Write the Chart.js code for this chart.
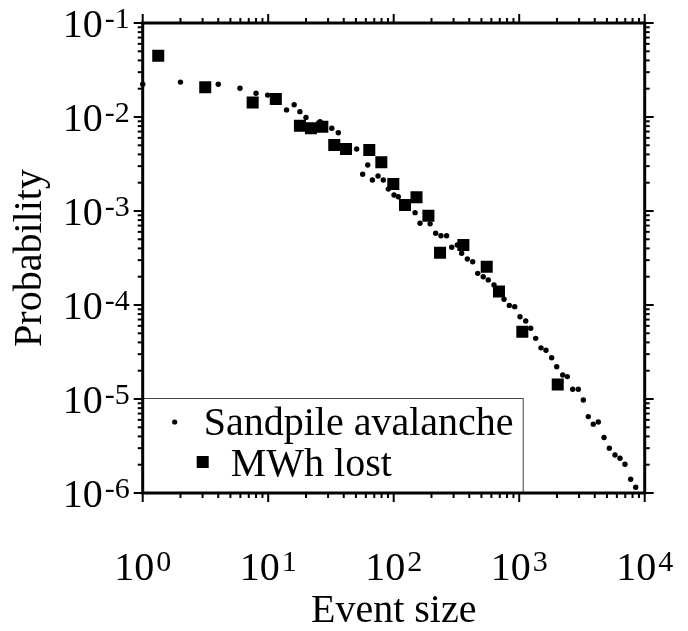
<!DOCTYPE html>
<html><head><meta charset="utf-8">
<script src="https://cdn.jsdelivr.net/npm/chart.js@4/dist/chart.umd.min.js"></script>
<style>html,body{margin:0;padding:0;background:#fff;}#wrap{width:688px;height:631px;}</style>
</head><body><div id="wrap"><canvas id="c" width="688" height="631"></canvas></div>
<script>
// ---- data ----
const sandpileSize = [1.0, 2.0, 4.0, 5.96, 8.0, 9.9, 14.0, 16.1, 17.9, 20.0, 25.9, 32.1, 36.2, 50.7, 56.6, 62.1, 67.6, 75.0, 82.6, 90.6, 100.6, 108.8, 148, 162, 195, 216, 238, 264, 290, 321, 348, 386, 426, 467, 517, 567, 630, 757, 834, 921, 1015, 1127, 1235, 1353, 1492, 1635, 1815, 1990, 2222, 2417, 2668, 2958, 3243, 3554, 3893, 4269, 4743, 5226, 5798, 6353, 6966, 7730, 8475];
const sandpileProb = [0.0223, 0.0235, 0.0223, 0.0202, 0.0179, 0.0171, 0.0119, 0.0135, 0.0114, 0.0099, 0.0089, 0.0076, 0.0068, 0.00457, 0.00246, 0.00309, 0.00214, 0.00236, 0.00214, 0.00171, 0.00148, 0.00142, 0.00096, 0.00074, 0.00073, 0.00058, 0.000546, 0.000546, 0.000411, 0.000435, 0.000355, 0.000309, 0.000289, 0.000217, 0.0002, 0.000185, 0.000163, 0.000115, 9.9e-5, 9.6e-5, 7.5e-5, 6.76e-5, 5.65e-5, 4.42e-5, 3.5e-5, 3.3e-5, 2.75e-5, 2.2e-5, 1.8e-5, 1.73e-5, 1.27e-5, 1.27e-5, 9.75e-6, 6.5e-6, 5.4e-6, 5.7e-6, 3.9e-6, 3.0e-6, 2.54e-6, 2.34e-6, 2.02e-6, 1.4e-6, 1.15e-6];
const mwhSize = [1.33, 3.15, 7.52, 11.5, 17.9, 21.9, 27.0, 33.6, 41.7, 63.9, 79.7, 99.3, 123, 152, 189, 234, 359, 551, 690, 1059, 2028];
const mwhProb = [0.0449, 0.0207, 0.0143, 0.0155, 0.00808, 0.00759, 0.00788, 0.00504, 0.00457, 0.00446, 0.0033, 0.00194, 0.00116, 0.0014, 0.00089, 0.00036, 0.000435, 0.000255, 0.000139, 5.2e-5, 1.43e-5];
const seriesLabels = ['Sandpile avalanche', 'MWh lost'];
const xTickValues = [1, 10, 100, 1000, 10000];
const xTickLabels = ['10^0', '10^1', '10^2', '10^3', '10^4'];
const yTickValues = [1e-6, 1e-5, 1e-4, 1e-3, 1e-2, 1e-1];
const yTickLabels = ['10^-6', '10^-5', '10^-4', '10^-3', '10^-2', '10^-1'];
const xTitle = 'Event size';
const yTitle = 'Probability';

const SERIF = "'Liberation Serif', 'Times New Roman', serif";

function drawPowerLabel(ctx, text, x, baseline, align) {
  const [base, exp] = text.split('^');
  ctx.font = '40px ' + SERIF;
  const wb = ctx.measureText(base).width;
  ctx.font = '30px ' + SERIF;
  const we = ctx.measureText(exp).width;
  const total = wb + 2 + we;
  const bx = align === 'center' ? x - total / 2 : x - total;
  ctx.textAlign = 'left';
  ctx.textBaseline = 'alphabetic';
  ctx.font = '40px ' + SERIF;
  ctx.fillText(base, bx, baseline);
  ctx.font = '30px ' + SERIF;
  ctx.fillText(exp, bx + wb + 2, baseline - 9);
}

const framePlugin = {
  id: 'frame',
  afterDraw(chart) {
    const ctx = chart.ctx, a = chart.chartArea;
    const xs = chart.scales.x, ys = chart.scales.y;
    ctx.save();
    // legend box
    const lx = a.left, ly = a.bottom - 95, lw = 380, lh = 95;
    ctx.fillStyle = '#fff';
    ctx.fillRect(lx, ly, lw, lh);
    ctx.strokeStyle = '#444';
    ctx.lineWidth = 1;
    ctx.strokeRect(lx + 0.5, ly + 0.5, lw, lh);
    ctx.fillStyle = '#000';
    ctx.beginPath(); ctx.arc(lx + 32, ly + 24, 2.6, 0, Math.PI * 2); ctx.fill();
    ctx.fillRect(lx + 54, ly + 58, 12, 12);
    ctx.font = '40px ' + SERIF;
    ctx.textBaseline = 'alphabetic';
    ctx.textAlign = 'left';
    ctx.fillText(chart.data.datasets[0].label, lx + 61, ly + 37);
    ctx.fillText(chart.data.datasets[1].label, lx + 88, ly + 78);
    // frame
    ctx.strokeStyle = '#000';
    ctx.lineWidth = 3;
    ctx.strokeRect(a.left, a.top, a.right - a.left, a.bottom - a.top);
    ctx.lineWidth = 2;
    const tick = (x1, y1, x2, y2) => { ctx.beginPath(); ctx.moveTo(x1, y1); ctx.lineTo(x2, y2); ctx.stroke(); };
    for (let e = 0; e <= 4; e++) {
      for (let m = 1; m <= 9; m++) {
        const v = m * Math.pow(10, e);
        if (v > 10000) break;
        const px = xs.getPixelForValue(v);
        const L = m === 1 ? 9 : 5;
        tick(px, a.bottom, px, a.bottom + L);
        tick(px, a.top, px, a.top - L);
      }
    }
    for (let e = -6; e <= -1; e++) {
      for (let m = 1; m <= 9; m++) {
        const v = m * Math.pow(10, e);
        if (v > 0.1 + 1e-12) break;
        const py = ys.getPixelForValue(v);
        const L = m === 1 ? 9 : 5;
        tick(a.left, py, a.left - L, py);
        tick(a.right, py, a.right + L, py);
      }
    }
    // tick labels (from the scales' ticks)
    ctx.fillStyle = '#000';
    xs.ticks.forEach((t, i) => {
      drawPowerLabel(ctx, xTickLabels[i], xs.getPixelForValue(t.value), a.bottom + 87, 'center');
    });
    ys.ticks.forEach((t, i) => {
      drawPowerLabel(ctx, yTickLabels[i], a.left - 13, ys.getPixelForValue(t.value) + 13.5, 'right');
    });
    ctx.restore();
  }
};

new Chart(document.getElementById('c'), {
  type: 'scatter',
  data: {
    datasets: [
      {
        label: seriesLabels[0],
        data: sandpileSize.map((s, i) => ({ x: s, y: sandpileProb[i] })),
        pointStyle: 'circle', pointRadius: 2.7, pointHoverRadius: 2.7,
        backgroundColor: '#000', borderColor: '#000', borderWidth: 0,
        clip: false
      },
      {
        label: seriesLabels[1],
        data: mwhSize.map((s, i) => ({ x: s, y: mwhProb[i] })),
        pointStyle: 'rect', pointRadius: 8.5, pointHoverRadius: 8.5,
        backgroundColor: '#000', borderColor: '#000', borderWidth: 0
      }
    ]
  },
  options: {
    responsive: false, animation: false, devicePixelRatio: 1,
    layout: { padding: { left: 0, top: 23, right: 43.3, bottom: 0 } },
    plugins: { legend: { display: false }, tooltip: { enabled: false } },
    scales: {
      x: {
        type: 'logarithmic', min: 1, max: 10000,
        afterBuildTicks: s => { s.ticks = xTickValues.map(v => ({ value: v, major: true })); },
        afterFit: s => { s.height = 138; s.paddingLeft = 0; s.paddingRight = 0; },
        grid: { display: false, drawTicks: false },
        border: { display: false },
        ticks: { display: false, callback: (v, i) => xTickLabels[i] },
        title: { display: true, text: xTitle, color: '#000', font: { family: SERIF, size: 40, lineHeight: 1 }, padding: { top: 0, bottom: 0 } }
      },
      y: {
        type: 'logarithmic', min: 1e-6, max: 1e-1,
        afterBuildTicks: s => { s.ticks = yTickValues.map(v => ({ value: v, major: true })); },
        afterFit: s => { s.width = 142.7; s.paddingTop = 0; s.paddingBottom = 0; },
        grid: { display: false, drawTicks: false },
        border: { display: false },
        ticks: { display: false, callback: (v, i) => yTickLabels[i] },
        title: { display: true, text: yTitle, color: '#000', font: { family: SERIF, size: 40 }, padding: { top: 6, bottom: 0 } }
      }
    }
  },
  plugins: [framePlugin]
});
</script></body></html>
